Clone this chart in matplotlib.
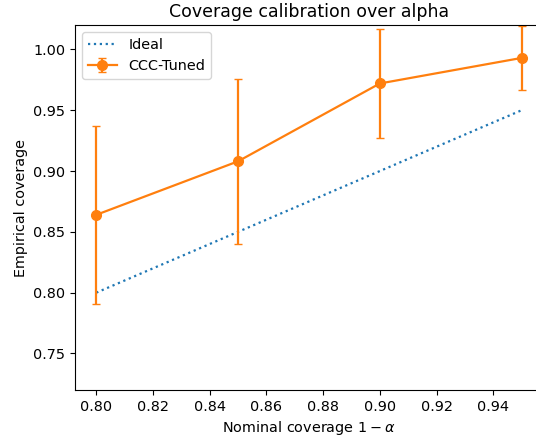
import matplotlib
matplotlib.use("Agg")
import matplotlib.pyplot as plt

# nominal coverage levels and measured empirical coverage
nominal = [0.80, 0.85, 0.90, 0.95]
ccc_mean = [0.864, 0.908, 0.972, 0.993]
ccc_err = [0.073, 0.068, 0.045, 0.026]

plt.rcParams["font.size"] = 10.4
plt.rcParams["lines.linewidth"] = 1.6

fig = plt.figure(figsize=(5.36, 4.37), dpi=100)
ax = fig.add_axes([0.1399, 0.1076, 0.873, 0.835])

ax.plot(nominal, nominal, linestyle=":", color="tab:blue", label="Ideal")
ax.errorbar(nominal, ccc_mean, yerr=ccc_err, marker="o", markersize=7,
            capsize=3, color="tab:orange", label="CCC-Tuned")

ax.set_ylim(0.72, 1.02)
ax.set_title("Coverage calibration over alpha")
ax.set_xlabel(r"Nominal coverage $1-\alpha$")
ax.set_ylabel("Empirical coverage")
ax.legend(loc="upper left")

fig.savefig("out.png", dpi=100)
